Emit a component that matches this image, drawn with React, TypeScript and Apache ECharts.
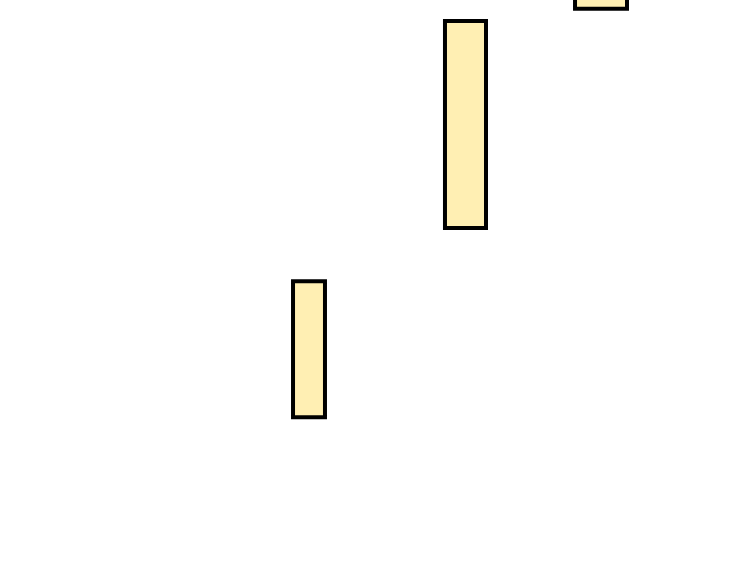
import React, { useEffect, useRef } from "react";
import * as echarts from "echarts";

// each block spans [xStart, xEnd] horizontally and [yLow, yHigh] vertically
const xStart = [39.07, 59.33, 76.67];
const xEnd = [43.33, 64.8, 83.6];
const yLow = [28.8, 61.1, 98.5];
const yHigh = [52.0, 96.4, 112.0];

const App: React.FC = () => {
  const chartRef = useRef<HTMLDivElement>(null);

  useEffect(() => {
    document.body.style.margin = "0";
    if (!chartRef.current) return;
    const chart = echarts.init(chartRef.current, undefined, { renderer: "svg" });

    const data = xStart.map((x, i) => [x, xEnd[i], yLow[i], yHigh[i]]);

    chart.setOption({
      animation: false,
      grid: { left: 0, right: 0, top: 0, bottom: 0 },
      xAxis: { type: "value", min: 0, max: 100, show: false },
      yAxis: { type: "value", min: 0, max: 100, show: false },
      series: [
        {
          type: "custom",
          clip: false,
          data,
          renderItem: (params: any, api: any) => {
            const p0 = api.coord([api.value(0), api.value(3)]);
            const p1 = api.coord([api.value(1), api.value(2)]);
            return {
              type: "rect",
              shape: { x: p0[0], y: p0[1], width: p1[0] - p0[0], height: p1[1] - p0[1] },
              style: { fill: "#FFEFB3", stroke: "#000000", lineWidth: 4 },
            };
          },
        },
      ],
    });

    return () => chart.dispose();
  }, []);

  return <div ref={chartRef} style={{ width: "750px", height: "586px" }} />;
};

export default App;
